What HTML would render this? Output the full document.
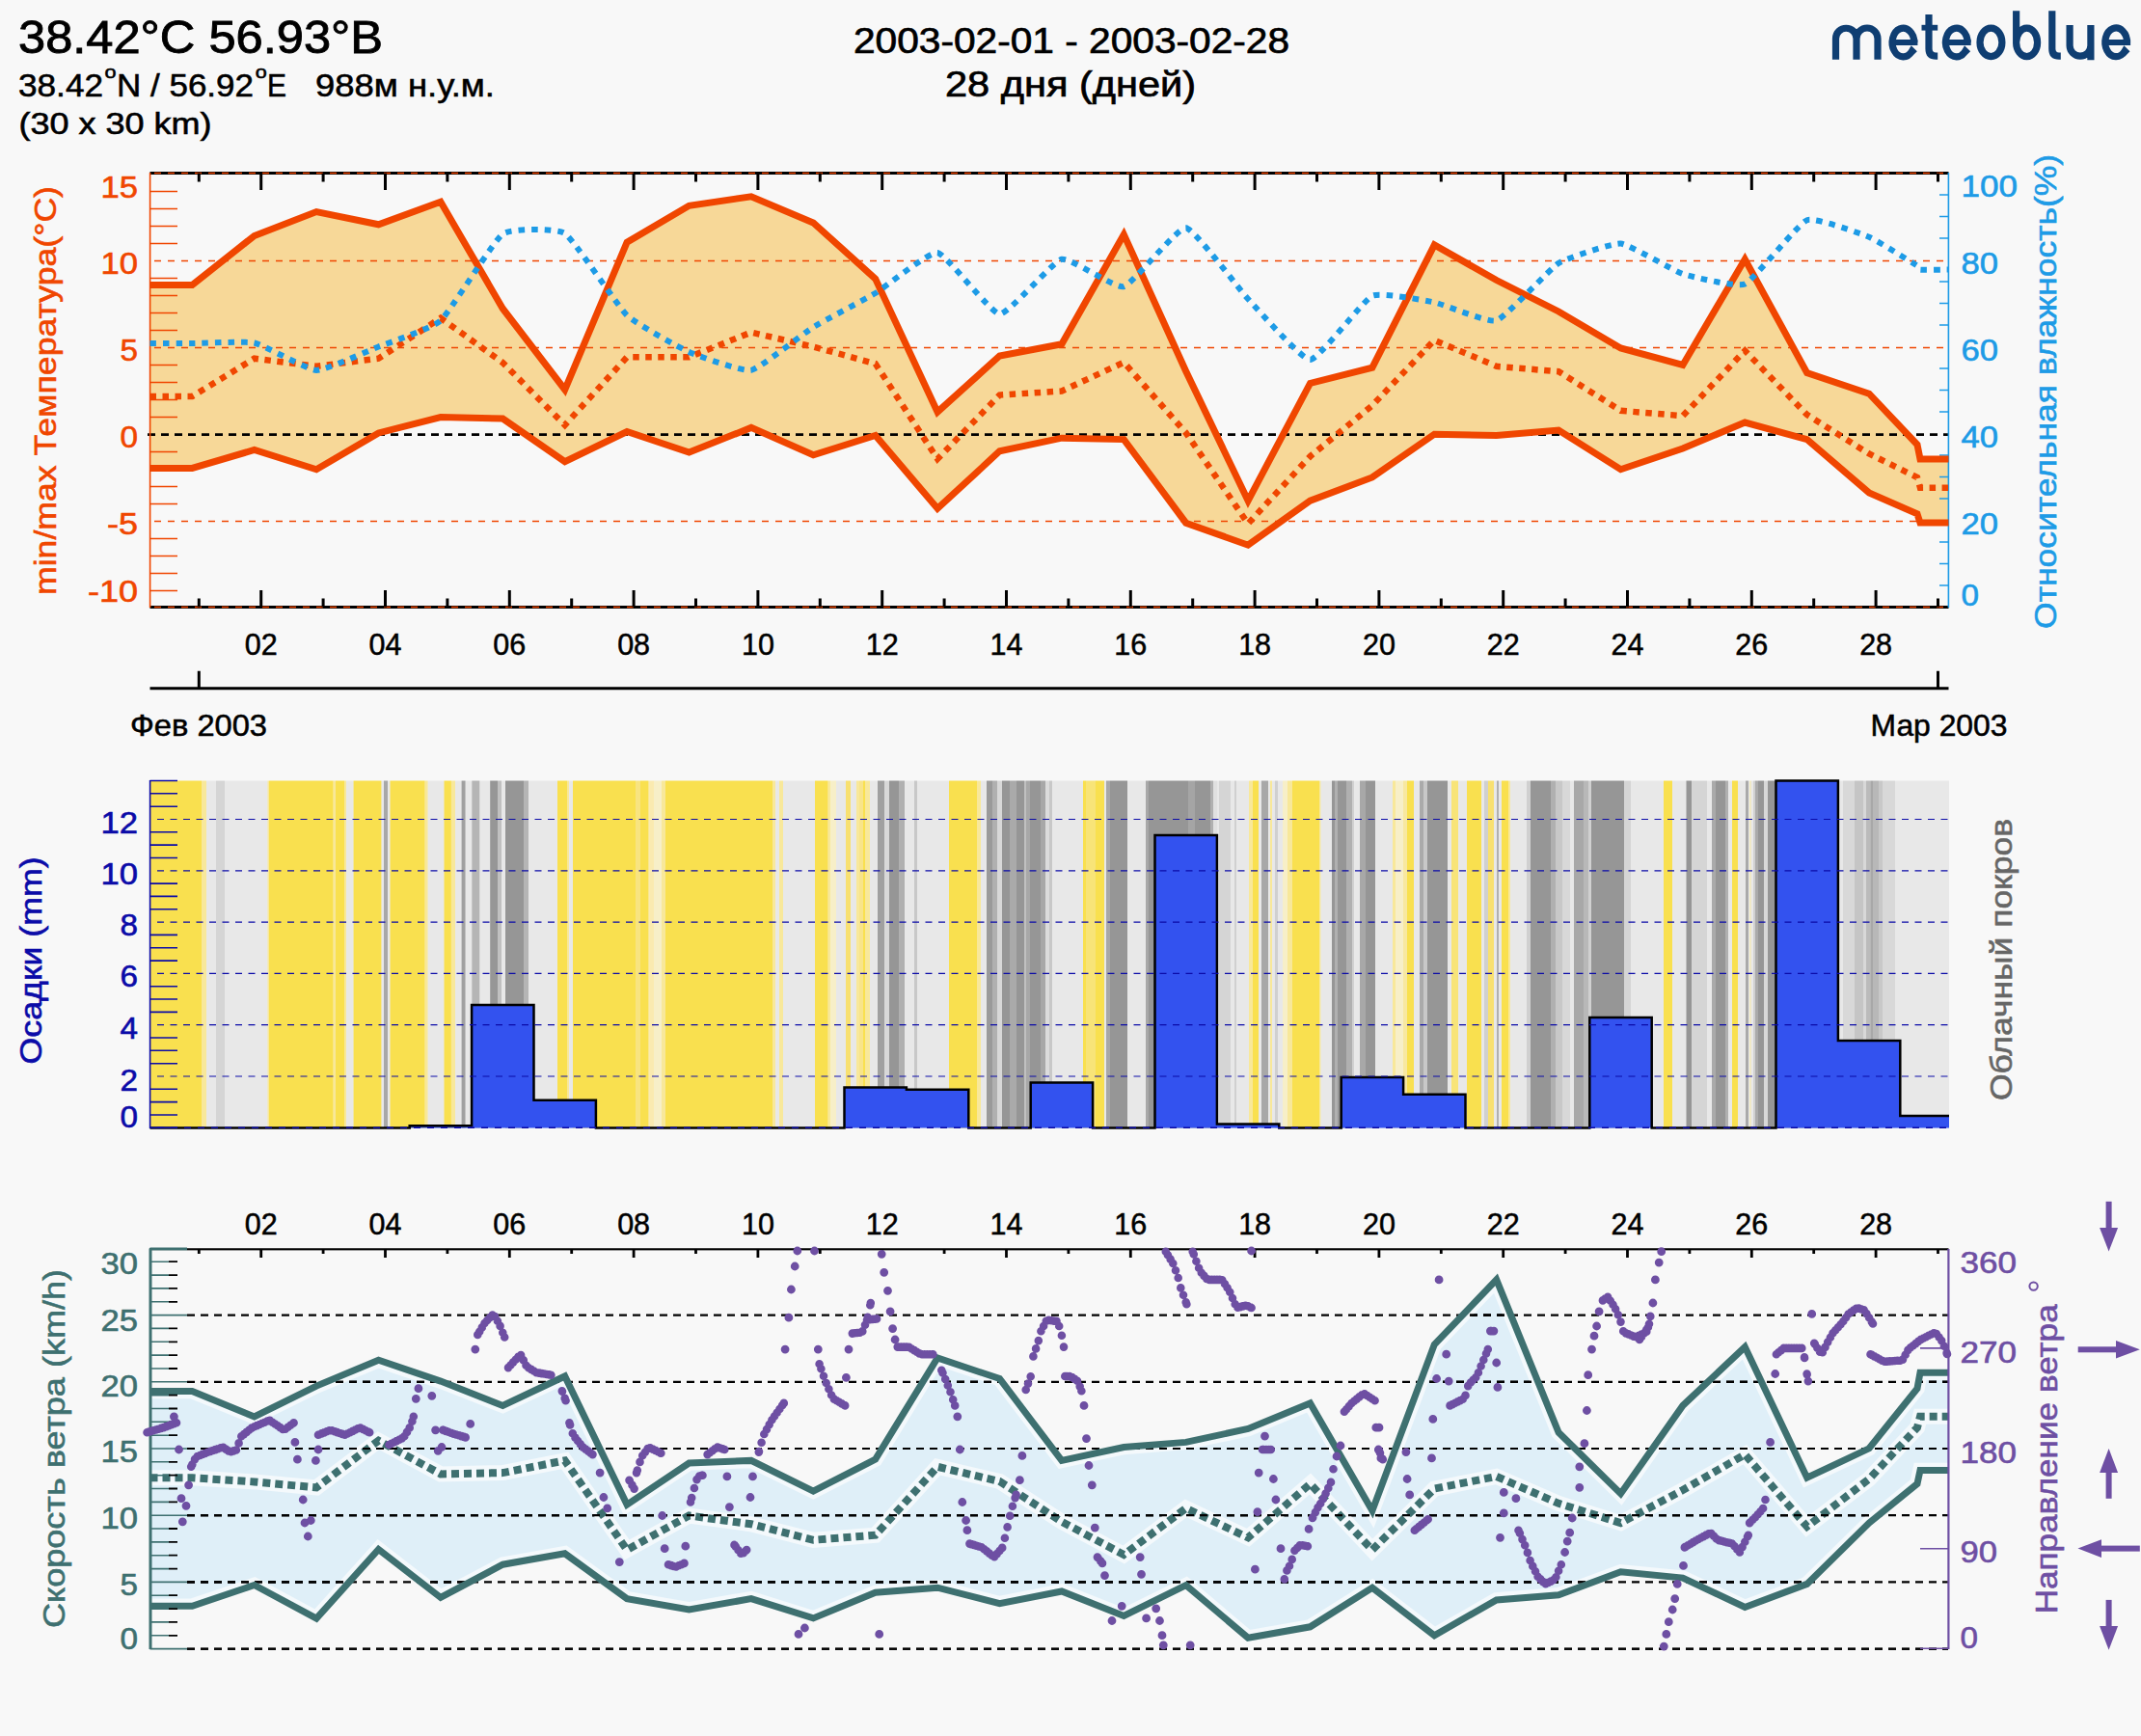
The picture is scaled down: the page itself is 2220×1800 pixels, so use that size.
<!DOCTYPE html><html><head><meta charset="utf-8"><title>meteoblue</title><style>html,body{margin:0;padding:0;background:#f8f8f8;}svg{display:block;}text{font-family:"Liberation Sans", sans-serif;}</style></head><body>
<svg width="2220" height="1800" viewBox="0 0 2220 1800">
<rect width="2220" height="1800" fill="#f8f8f8"/>
<defs><clipPath id="inband"><polygon points="155.5,1442.5 199.3,1442.5 263.7,1468.9 328.1,1437.1 392.5,1410.3 456.9,1432.1 521.3,1457.4 585.7,1427 650.1,1560.1 714.5,1517 778.9,1514.4 843.3,1546.1 907.7,1513.2 972.1,1408 1036.5,1429.5 1100.9,1514.4 1165.3,1500.5 1229.7,1495.4 1294.1,1481.5 1358.5,1454.9 1422.9,1566.4 1487.3,1394.1 1551.7,1326.9 1616.1,1485.3 1680.5,1548.7 1744.9,1457.4 1809.3,1396.6 1873.7,1532.2 1938.1,1501.8 1988,1439.7 1991,1423.2 2020.5,1423.2 2020.5,1524.6 1991,1524.6 1988,1538.5 1938.1,1579.1 1873.7,1642.4 1809.3,1666.5 1744.9,1636.1 1680.5,1629.8 1616.1,1653.8 1551.7,1658.9 1487.3,1695.7 1422.9,1646.2 1358.5,1686.8 1294.1,1698.2 1229.7,1643.7 1165.3,1675.4 1100.9,1650 1036.5,1662.7 972.1,1646.2 907.7,1651.3 843.3,1677.9 778.9,1657.6 714.5,1669 650.1,1657.6 585.7,1610.8 521.3,1622.2 456.9,1656.4 392.5,1606.5 328.1,1678 263.7,1643.5 199.3,1665.2 155.5,1665.2"/></clipPath><clipPath id="outband"><path fill-rule="evenodd" d="M0,0H2220V1800H0Z M155.5,1442.5 L199.3,1442.5 L263.7,1468.9 L328.1,1437.1 L392.5,1410.3 L456.9,1432.1 L521.3,1457.4 L585.7,1427 L650.1,1560.1 L714.5,1517 L778.9,1514.4 L843.3,1546.1 L907.7,1513.2 L972.1,1408 L1036.5,1429.5 L1100.9,1514.4 L1165.3,1500.5 L1229.7,1495.4 L1294.1,1481.5 L1358.5,1454.9 L1422.9,1566.4 L1487.3,1394.1 L1551.7,1326.9 L1616.1,1485.3 L1680.5,1548.7 L1744.9,1457.4 L1809.3,1396.6 L1873.7,1532.2 L1938.1,1501.8 L1988,1439.7 L1991,1423.2 L2020.5,1423.2 L2020.5,1524.6 L1991,1524.6 L1988,1538.5 L1938.1,1579.1 L1873.7,1642.4 L1809.3,1666.5 L1744.9,1636.1 L1680.5,1629.8 L1616.1,1653.8 L1551.7,1658.9 L1487.3,1695.7 L1422.9,1646.2 L1358.5,1686.8 L1294.1,1698.2 L1229.7,1643.7 L1165.3,1675.4 L1100.9,1650 L1036.5,1662.7 L972.1,1646.2 L907.7,1651.3 L843.3,1677.9 L778.9,1657.6 L714.5,1669 L650.1,1657.6 L585.7,1610.8 L521.3,1622.2 L456.9,1656.4 L392.5,1606.5 L328.1,1678 L263.7,1643.5 L199.3,1665.2 L155.5,1665.2 Z"/></clipPath></defs>
<text x="19" y="54.9" font-size="47.5" fill="#000" stroke="#000" stroke-width="0.9" textLength="378" lengthAdjust="spacingAndGlyphs">38.42°C 56.93°B</text>
<text x="19" y="99.7" font-size="32.5" fill="#000" stroke="#000" stroke-width="0.55"><tspan x="19" textLength="88" lengthAdjust="spacingAndGlyphs">38.42</tspan><tspan x="108.5" y="80.5" font-size="18" textLength="12" lengthAdjust="spacingAndGlyphs">o</tspan><tspan x="121" y="99.7" textLength="142" lengthAdjust="spacingAndGlyphs">N / 56.92</tspan><tspan x="264.7" y="80.5" font-size="18" textLength="12" lengthAdjust="spacingAndGlyphs">o</tspan><tspan x="277" y="99.7" textLength="20" lengthAdjust="spacingAndGlyphs">E</tspan><tspan x="327" y="99.7" textLength="186" lengthAdjust="spacingAndGlyphs">988м н.у.м.</tspan></text>
<text x="19.5" y="139.3" font-size="31.5" fill="#000" stroke="#000" stroke-width="0.6" textLength="200" lengthAdjust="spacingAndGlyphs">(30 x 30 km)</text>
<text x="885" y="54.7" font-size="36.5" fill="#000" stroke="#000" stroke-width="0.7" textLength="452" lengthAdjust="spacingAndGlyphs">2003-02-01 - 2003-02-28</text>
<text x="980" y="100.2" font-size="36.5" fill="#000" stroke="#000" stroke-width="0.7" textLength="260" lengthAdjust="spacingAndGlyphs">28 дня (дней)</text>
<path d="M1903.5,61.8V40A10.75,10.75 0 0 1 1925,40V61.8M1925,40A11,11 0 0 1 1947,40V61.8M2000,15.1V50.5Q2000,58.2 2007.5,58.2H2009.2M2064.45,29.2A11.45,14.7 0 1 1 2064.45,58.6A11.45,14.7 0 1 1 2064.45,29.2ZM2090.65,11.3V44M2101.6,29.2A11,14.7 0 1 1 2101.6,58.6A11,14.7 0 1 1 2101.6,29.2ZM2127.8,11.3V50.5Q2127.8,58.2 2135,58.2H2136.8M2146.1,26V47.3A10.9,10.9 0 0 0 2167.9,47.3V26M2167.9,44V62.2" fill="none" stroke="#0f3e72" stroke-width="7.2" stroke-linecap="butt"/>
<path d="M1992.5,28.7H2009.2" stroke="#0f3e72" stroke-width="5.8"/>
<path d="M1962.5,44H1988.4" stroke="#0f3e72" stroke-width="6"/>
<path d="M1984.8,44A11.35,14.85 0 1 0 1982.5,53 L1985.3,55.8" fill="none" stroke="#0f3e72" stroke-width="7.2"/>
<path d="M2017.8,44H2043.7" stroke="#0f3e72" stroke-width="6"/>
<path d="M2040.1,44A11.35,14.85 0 1 0 2037.8,53 L2040.6,55.8" fill="none" stroke="#0f3e72" stroke-width="7.2"/>
<path d="M2183.2,44H2209.1" stroke="#0f3e72" stroke-width="6"/>
<path d="M2205.5,44A11.35,14.85 0 1 0 2203.1,53 L2206,55.8" fill="none" stroke="#0f3e72" stroke-width="7.2"/>
<polygon points="155.5,295.4 199.3,295.4 263.7,244.5 328.1,219.6 392.5,232.8 456.9,209.3 521.3,320 585.7,404 650.1,251.2 714.5,213.3 778.9,203.8 843.3,230.9 907.7,289.1 972.1,427.2 1036.5,369 1100.9,356.8 1165.3,243.1 1229.7,385 1294.1,519.2 1358.5,397.4 1422.9,381.2 1487.3,253.9 1551.7,290.5 1616.1,323 1680.5,360.9 1744.9,378.4 1809.3,268.8 1873.7,386.6 1938.1,408.2 1988,461 1991,476 2020.5,476 2020.5,542 1991,542 1988,532.8 1938.1,511 1873.7,455.6 1809.3,438 1744.9,465 1680.5,486.7 1616.1,446.1 1551.7,451.5 1487.3,450.2 1422.9,494.9 1358.5,519.2 1294.1,565.2 1229.7,542.2 1165.3,455.6 1100.9,454.2 1036.5,467.8 972.1,527.3 907.7,451.5 843.3,471.8 778.9,443.4 714.5,469.1 650.1,447.5 585.7,478.7 521.3,434 456.9,432.6 392.5,448.9 328.1,486.8 263.7,466.5 199.3,485.4 155.5,485.4" fill="#f7d898"/>
<line x1="160" y1="270.5" x2="2020.5" y2="270.5" stroke="#f04600" stroke-width="1.4" stroke-dasharray="7 7"/>
<line x1="160" y1="360.5" x2="2020.5" y2="360.5" stroke="#f04600" stroke-width="1.4" stroke-dasharray="7 7"/>
<line x1="160" y1="540.5" x2="2020.5" y2="540.5" stroke="#f04600" stroke-width="1.4" stroke-dasharray="7 7"/>
<line x1="153" y1="450.6" x2="2020.5" y2="450.6" stroke="#000" stroke-width="2.8" stroke-dasharray="8 6"/>
<path d="M155.5,612.5H184M155.5,594.5H184M155.5,576.5H184M155.5,558.5H184M155.5,522.5H184M155.5,504.5H184M155.5,486.5H184M155.5,468.5H184M155.5,432.5H184M155.5,414.5H184M155.5,396.5H184M155.5,378.5H184M155.5,342.5H184M155.5,324.5H184M155.5,306.5H184M155.5,288.5H184M155.5,252.5H184M155.5,234.5H184M155.5,216.5H184M155.5,198.5H184" stroke="#f04600" stroke-width="1.5"/>
<path d="M2011,607H2020M2011,584.5H2020M2011,562H2020M2011,517H2020M2011,494.5H2020M2011,472H2020M2011,427H2020M2011,404.5H2020M2011,382H2020M2011,337H2020M2011,314.5H2020M2011,292H2020M2011,247H2020M2011,224.5H2020M2011,202H2020" stroke="#1d9be6" stroke-width="1.5"/>
<line x1="155.5" y1="179.5" x2="2020.5" y2="179.5" stroke="#000" stroke-width="2.8"/>
<line x1="155.5" y1="629.5" x2="2020.5" y2="629.5" stroke="#000" stroke-width="2.8"/>
<line x1="160" y1="179.5" x2="2020.5" y2="179.5" stroke="#f04600" stroke-width="1.3" stroke-dasharray="7 7"/>
<line x1="160" y1="629.5" x2="2020.5" y2="629.5" stroke="#f04600" stroke-width="1.3" stroke-dasharray="7 7"/>
<line x1="155.6" y1="179" x2="155.6" y2="630" stroke="#f04600" stroke-width="1.6"/>
<line x1="2020.4" y1="179" x2="2020.4" y2="630" stroke="#1d9be6" stroke-width="1.6"/>
<path d="M206.3,179.5v9M206.3,629.5v-9M270.7,179.5v17.5M270.7,629.5v-17.5M335.1,179.5v9M335.1,629.5v-9M399.5,179.5v17.5M399.5,629.5v-17.5M463.9,179.5v9M463.9,629.5v-9M528.3,179.5v17.5M528.3,629.5v-17.5M592.7,179.5v9M592.7,629.5v-9M657.1,179.5v17.5M657.1,629.5v-17.5M721.5,179.5v9M721.5,629.5v-9M785.9,179.5v17.5M785.9,629.5v-17.5M850.3,179.5v9M850.3,629.5v-9M914.7,179.5v17.5M914.7,629.5v-17.5M979.1,179.5v9M979.1,629.5v-9M1043.5,179.5v17.5M1043.5,629.5v-17.5M1107.9,179.5v9M1107.9,629.5v-9M1172.3,179.5v17.5M1172.3,629.5v-17.5M1236.7,179.5v9M1236.7,629.5v-9M1301.1,179.5v17.5M1301.1,629.5v-17.5M1365.5,179.5v9M1365.5,629.5v-9M1429.9,179.5v17.5M1429.9,629.5v-17.5M1494.3,179.5v9M1494.3,629.5v-9M1558.7,179.5v17.5M1558.7,629.5v-17.5M1623.1,179.5v9M1623.1,629.5v-9M1687.5,179.5v17.5M1687.5,629.5v-17.5M1751.9,179.5v9M1751.9,629.5v-9M1816.3,179.5v17.5M1816.3,629.5v-17.5M1880.7,179.5v9M1880.7,629.5v-9M1945.1,179.5v17.5M1945.1,629.5v-17.5M2009.5,179.5v9M2009.5,629.5v-9" stroke="#000" stroke-width="3"/>
<polyline points="155.5,295.4 199.3,295.4 263.7,244.5 328.1,219.6 392.5,232.8 456.9,209.3 521.3,320 585.7,404 650.1,251.2 714.5,213.3 778.9,203.8 843.3,230.9 907.7,289.1 972.1,427.2 1036.5,369 1100.9,356.8 1165.3,243.1 1229.7,385 1294.1,519.2 1358.5,397.4 1422.9,381.2 1487.3,253.9 1551.7,290.5 1616.1,323 1680.5,360.9 1744.9,378.4 1809.3,268.8 1873.7,386.6 1938.1,408.2 1988,461 1991,476 2020.5,476" fill="none" stroke="#f04600" stroke-width="7" stroke-linejoin="miter" stroke-miterlimit="3"/>
<polyline points="155.5,485.4 199.3,485.4 263.7,466.5 328.1,486.8 392.5,448.9 456.9,432.6 521.3,434 585.7,478.7 650.1,447.5 714.5,469.1 778.9,443.4 843.3,471.8 907.7,451.5 972.1,527.3 1036.5,467.8 1100.9,454.2 1165.3,455.6 1229.7,542.2 1294.1,565.2 1358.5,519.2 1422.9,494.9 1487.3,450.2 1551.7,451.5 1616.1,446.1 1680.5,486.7 1744.9,465 1809.3,438 1873.7,455.6 1938.1,511 1988,532.8 1991,542 2020.5,542" fill="none" stroke="#f04600" stroke-width="7" stroke-linejoin="miter" stroke-miterlimit="3"/>
<polyline points="155.5,411 199.3,411 263.7,371.7 328.1,379.8 392.5,371.7 456.9,329.8 521.3,376 585.7,440.7 650.1,370.3 714.5,370.3 778.9,344.6 843.3,359.5 907.7,377.1 972.1,475.9 1036.5,409.6 1100.9,405.5 1165.3,375.7 1229.7,448.8 1294.1,543 1358.5,473.2 1422.9,420.4 1487.3,352.7 1551.7,379.8 1616.1,385.2 1680.5,425.8 1744.9,431.2 1809.3,363.6 1873.7,430 1938.1,470.5 1988,495 1991,505.7 2020.5,505.7" fill="none" stroke="#f04600" stroke-width="6.5" stroke-dasharray="6.5 6.5"/>
<path d="M155.5,356 C158.4,356 192.1,356 199.3,356 C206.5,356 255.1,353.6 263.7,355.5 C272.3,357.4 319.5,383.6 328.1,383.9 C336.7,384.2 383.9,362.9 392.5,359.5 C401.1,356.1 448.3,340.3 456.9,332.5 C465.5,324.7 512.7,248.5 521.3,242.5 C529.9,236.5 577.1,236.4 585.7,242 C594.3,247.6 641.5,318.8 650.1,327 C658.7,335.2 705.9,361.2 714.5,365 C723.1,368.8 770.3,385.6 778.9,383.9 C787.5,382.2 834.7,344.5 843.3,339.2 C851.9,333.9 899.1,309.1 907.7,304 C916.3,298.9 963.5,260.6 972.1,262 C980.7,263.4 1027.9,325.2 1036.5,325.7 C1045.1,326.2 1092.3,270.7 1100.9,268.8 C1109.5,266.9 1156.7,299.4 1165.3,297.2 C1173.9,295 1221.1,235.4 1229.7,236.3 C1238.3,237.2 1285.5,300.9 1294.1,310 C1302.7,319.1 1349.9,373.2 1358.5,373 C1367.1,372.8 1414.3,310.7 1422.9,306.7 C1431.5,302.7 1478.7,311.8 1487.3,313.5 C1495.9,315.2 1543.1,335.1 1551.7,332.4 C1560.3,329.7 1607.5,278.2 1616.1,272.9 C1624.7,267.6 1671.9,251.9 1680.5,252.6 C1689.1,253.3 1736.3,281.2 1744.9,284 C1753.5,286.8 1800.7,298.2 1809.3,294.5 C1817.9,290.8 1865.1,231.4 1873.7,228.2 C1882.3,225 1930.5,242.6 1938.1,245.8 C1945.7,249 1984.5,273.3 1988,275.6 C1991.5,277.9 1988.8,279.3 1991,279.6 C1993.2,279.9 2018.5,279.6 2020.5,279.6" fill="none" stroke="#1d9be6" stroke-width="6" stroke-dasharray="6.5 7"/>
<text x="143" y="205" font-size="31" fill="#f04600" stroke="#f04600" stroke-width="0.6" text-anchor="end" textLength="38.5" lengthAdjust="spacingAndGlyphs">15</text>
<text x="143" y="283.7" font-size="31" fill="#f04600" stroke="#f04600" stroke-width="0.6" text-anchor="end" textLength="38.5" lengthAdjust="spacingAndGlyphs">10</text>
<text x="143" y="374" font-size="31" fill="#f04600" stroke="#f04600" stroke-width="0.6" text-anchor="end" textLength="18.5" lengthAdjust="spacingAndGlyphs">5</text>
<text x="143" y="463.5" font-size="31" fill="#f04600" stroke="#f04600" stroke-width="0.6" text-anchor="end" textLength="18.5" lengthAdjust="spacingAndGlyphs">0</text>
<text x="143" y="553.5" font-size="31" fill="#f04600" stroke="#f04600" stroke-width="0.6" text-anchor="end" textLength="32" lengthAdjust="spacingAndGlyphs">-5</text>
<text x="143" y="623.7" font-size="31" fill="#f04600" stroke="#f04600" stroke-width="0.6" text-anchor="end" textLength="52" lengthAdjust="spacingAndGlyphs">-10</text>
<text x="2033.5" y="204.3" font-size="31" fill="#1d9be6" stroke="#1d9be6" stroke-width="0.6" textLength="58.5" lengthAdjust="spacingAndGlyphs">100</text>
<text x="2033.5" y="284" font-size="31" fill="#1d9be6" stroke="#1d9be6" stroke-width="0.6" textLength="38.5" lengthAdjust="spacingAndGlyphs">80</text>
<text x="2033.5" y="374" font-size="31" fill="#1d9be6" stroke="#1d9be6" stroke-width="0.6" textLength="38.5" lengthAdjust="spacingAndGlyphs">60</text>
<text x="2033.5" y="463.5" font-size="31" fill="#1d9be6" stroke="#1d9be6" stroke-width="0.6" textLength="38.5" lengthAdjust="spacingAndGlyphs">40</text>
<text x="2033.5" y="553.6" font-size="31" fill="#1d9be6" stroke="#1d9be6" stroke-width="0.6" textLength="38.5" lengthAdjust="spacingAndGlyphs">20</text>
<text x="2033.5" y="628.4" font-size="31" fill="#1d9be6" stroke="#1d9be6" stroke-width="0.6" textLength="18.5" lengthAdjust="spacingAndGlyphs">0</text>
<text transform="translate(58,617) rotate(-90)" x="0" y="0" font-size="31.5" fill="#f04600" stroke="#f04600" stroke-width="0.6" textLength="424" lengthAdjust="spacingAndGlyphs">min/max Температура(°C)</text>
<text transform="translate(2132.4,651.9) rotate(-90)" x="0" y="0" font-size="31.5" fill="#1d9be6" stroke="#1d9be6" stroke-width="0.6" textLength="492" lengthAdjust="spacingAndGlyphs">Относительная влажность(%)</text>
<text x="270.7" y="679.4" font-size="30.5" fill="#000" stroke="#000" stroke-width="0.5" text-anchor="middle">02</text>
<text x="399.5" y="679.4" font-size="30.5" fill="#000" stroke="#000" stroke-width="0.5" text-anchor="middle">04</text>
<text x="528.3" y="679.4" font-size="30.5" fill="#000" stroke="#000" stroke-width="0.5" text-anchor="middle">06</text>
<text x="657.1" y="679.4" font-size="30.5" fill="#000" stroke="#000" stroke-width="0.5" text-anchor="middle">08</text>
<text x="785.9" y="679.4" font-size="30.5" fill="#000" stroke="#000" stroke-width="0.5" text-anchor="middle">10</text>
<text x="914.7" y="679.4" font-size="30.5" fill="#000" stroke="#000" stroke-width="0.5" text-anchor="middle">12</text>
<text x="1043.5" y="679.4" font-size="30.5" fill="#000" stroke="#000" stroke-width="0.5" text-anchor="middle">14</text>
<text x="1172.3" y="679.4" font-size="30.5" fill="#000" stroke="#000" stroke-width="0.5" text-anchor="middle">16</text>
<text x="1301.1" y="679.4" font-size="30.5" fill="#000" stroke="#000" stroke-width="0.5" text-anchor="middle">18</text>
<text x="1429.9" y="679.4" font-size="30.5" fill="#000" stroke="#000" stroke-width="0.5" text-anchor="middle">20</text>
<text x="1558.7" y="679.4" font-size="30.5" fill="#000" stroke="#000" stroke-width="0.5" text-anchor="middle">22</text>
<text x="1687.5" y="679.4" font-size="30.5" fill="#000" stroke="#000" stroke-width="0.5" text-anchor="middle">24</text>
<text x="1816.3" y="679.4" font-size="30.5" fill="#000" stroke="#000" stroke-width="0.5" text-anchor="middle">26</text>
<text x="1945.1" y="679.4" font-size="30.5" fill="#000" stroke="#000" stroke-width="0.5" text-anchor="middle">28</text>
<line x1="155.5" y1="713.8" x2="2020.5" y2="713.8" stroke="#000" stroke-width="3"/>
<path d="M206.3,713.8v-18M2009.5,713.8v-18" stroke="#000" stroke-width="3"/>
<text x="206" y="762.9" font-size="30.5" fill="#000" stroke="#000" stroke-width="0.5" text-anchor="middle" textLength="142" lengthAdjust="spacingAndGlyphs">Фев 2003</text>
<text x="2010.5" y="762.9" font-size="30.5" fill="#000" stroke="#000" stroke-width="0.5" text-anchor="middle" textLength="142" lengthAdjust="spacingAndGlyphs">Мар 2003</text>
<defs><filter id="hblur" x="-0.01" y="0" width="1.02" height="1"><feGaussianBlur stdDeviation="0.6 0"/></filter><clipPath id="cloudclip"><rect x="155.5" y="809.5" width="1865.5" height="360"/></clipPath></defs>
<g clip-path="url(#cloudclip)"><g filter="url(#hblur)">
<rect x="150" y="807.5" width="59.3" height="364" fill="#f9e04f"/>
<rect x="209" y="807.5" width="5.3" height="364" fill="#f8e89a"/>
<rect x="214" y="807.5" width="10.3" height="364" fill="#e8e8e8"/>
<rect x="224" y="807.5" width="9.3" height="364" fill="#d5d5d5"/>
<rect x="233" y="807.5" width="44.8" height="364" fill="#e8e8e8"/>
<rect x="277.5" y="807.5" width="1.8" height="364" fill="#f8e89a"/>
<rect x="279" y="807.5" width="66.8" height="364" fill="#f9e04f"/>
<rect x="345.5" y="807.5" width="2.8" height="364" fill="#f8e89a"/>
<rect x="348" y="807.5" width="9.3" height="364" fill="#f9e04f"/>
<rect x="357" y="807.5" width="2.3" height="364" fill="#f8e89a"/>
<rect x="359" y="807.5" width="7.9" height="364" fill="#e8e8e8"/>
<rect x="366.6" y="807.5" width="29.2" height="364" fill="#f9e04f"/>
<rect x="395.5" y="807.5" width="2.8" height="364" fill="#e8e8e8"/>
<rect x="398" y="807.5" width="4.3" height="364" fill="#a8a8a8"/>
<rect x="402" y="807.5" width="2.8" height="364" fill="#e8e8e8"/>
<rect x="404.5" y="807.5" width="36.3" height="364" fill="#f9e04f"/>
<rect x="440.5" y="807.5" width="3.4" height="364" fill="#f8e89a"/>
<rect x="443.6" y="807.5" width="17.2" height="364" fill="#e8e8e8"/>
<rect x="460.5" y="807.5" width="7.6" height="364" fill="#f9e04f"/>
<rect x="467.8" y="807.5" width="4.5" height="364" fill="#f8e89a"/>
<rect x="472" y="807.5" width="6.9" height="364" fill="#e8e8e8"/>
<rect x="478.6" y="807.5" width="4.3" height="364" fill="#a0a0a0"/>
<rect x="482.6" y="807.5" width="7" height="364" fill="#e8e8e8"/>
<rect x="489.3" y="807.5" width="8.4" height="364" fill="#b5b5b5"/>
<rect x="497.4" y="807.5" width="11.1" height="364" fill="#e8e8e8"/>
<rect x="508.2" y="807.5" width="8.1" height="364" fill="#969696"/>
<rect x="516" y="807.5" width="4.3" height="364" fill="#c0c0c0"/>
<rect x="520" y="807.5" width="4.3" height="364" fill="#e8e8e8"/>
<rect x="524" y="807.5" width="19.3" height="364" fill="#969696"/>
<rect x="543" y="807.5" width="5.3" height="364" fill="#b5b5b5"/>
<rect x="548" y="807.5" width="30.3" height="364" fill="#e8e8e8"/>
<rect x="578" y="807.5" width="10.3" height="364" fill="#f9e04f"/>
<rect x="588" y="807.5" width="2.3" height="364" fill="#f8e89a"/>
<rect x="590" y="807.5" width="4.3" height="364" fill="#e8e8e8"/>
<rect x="594" y="807.5" width="65.3" height="364" fill="#f9e04f"/>
<rect x="659" y="807.5" width="5.3" height="364" fill="#f8e480"/>
<rect x="664" y="807.5" width="8.8" height="364" fill="#f9e04f"/>
<rect x="672.5" y="807.5" width="5.8" height="364" fill="#faeab0"/>
<rect x="678" y="807.5" width="8.3" height="364" fill="#f7efc8"/>
<rect x="686" y="807.5" width="4.3" height="364" fill="#f8e89a"/>
<rect x="690" y="807.5" width="111.3" height="364" fill="#f9e04f"/>
<rect x="801" y="807.5" width="3.3" height="364" fill="#f8e89a"/>
<rect x="804" y="807.5" width="4.3" height="364" fill="#e8e8e8"/>
<rect x="808" y="807.5" width="4.3" height="364" fill="#f8e89a"/>
<rect x="812" y="807.5" width="33.3" height="364" fill="#e8e8e8"/>
<rect x="845" y="807.5" width="13.8" height="364" fill="#f9e04f"/>
<rect x="858.5" y="807.5" width="2.8" height="364" fill="#f8e89a"/>
<rect x="861" y="807.5" width="6.3" height="364" fill="#f7efc8"/>
<rect x="867" y="807.5" width="10.3" height="364" fill="#e8e8e8"/>
<rect x="877" y="807.5" width="5.3" height="364" fill="#f8e070"/>
<rect x="882" y="807.5" width="6.3" height="364" fill="#e8e8e8"/>
<rect x="888" y="807.5" width="3.3" height="364" fill="#f8e89a"/>
<rect x="891" y="807.5" width="4.3" height="364" fill="#f8e48a"/>
<rect x="895" y="807.5" width="2.3" height="364" fill="#f9e04f"/>
<rect x="897" y="807.5" width="5.3" height="364" fill="#f8e89a"/>
<rect x="902" y="807.5" width="8.3" height="364" fill="#e8e8e8"/>
<rect x="910" y="807.5" width="7.3" height="364" fill="#a0a0a0"/>
<rect x="917" y="807.5" width="5.3" height="364" fill="#d8d8d8"/>
<rect x="922" y="807.5" width="10.3" height="364" fill="#969696"/>
<rect x="932" y="807.5" width="6.3" height="364" fill="#b0b0b0"/>
<rect x="938" y="807.5" width="10.3" height="364" fill="#e8e8e8"/>
<rect x="948" y="807.5" width="3.3" height="364" fill="#c8c8c8"/>
<rect x="951" y="807.5" width="33.3" height="364" fill="#e8e8e8"/>
<rect x="984" y="807.5" width="29.3" height="364" fill="#f9e04f"/>
<rect x="1013" y="807.5" width="4.3" height="364" fill="#f8e89a"/>
<rect x="1017" y="807.5" width="6.3" height="364" fill="#e8e8e8"/>
<rect x="1023" y="807.5" width="6.3" height="364" fill="#9a9a9a"/>
<rect x="1029" y="807.5" width="5.3" height="364" fill="#b0b0b0"/>
<rect x="1034" y="807.5" width="5.3" height="364" fill="#d8d8d8"/>
<rect x="1039" y="807.5" width="8.3" height="364" fill="#969696"/>
<rect x="1047" y="807.5" width="7.3" height="364" fill="#aaaaaa"/>
<rect x="1054" y="807.5" width="8.3" height="364" fill="#969696"/>
<rect x="1062" y="807.5" width="2.3" height="364" fill="#c0c0c0"/>
<rect x="1064" y="807.5" width="4.3" height="364" fill="#a8a8a8"/>
<rect x="1068" y="807.5" width="11.3" height="364" fill="#969696"/>
<rect x="1079" y="807.5" width="5.3" height="364" fill="#a8a8a8"/>
<rect x="1084" y="807.5" width="4.3" height="364" fill="#dcdcdc"/>
<rect x="1088" y="807.5" width="3.3" height="364" fill="#c8c8c8"/>
<rect x="1091" y="807.5" width="32.3" height="364" fill="#e8e8e8"/>
<rect x="1123" y="807.5" width="3.3" height="364" fill="#f9e04f"/>
<rect x="1126" y="807.5" width="10.3" height="364" fill="#f8e478"/>
<rect x="1136" y="807.5" width="9.3" height="364" fill="#f9e04f"/>
<rect x="1145" y="807.5" width="2.3" height="364" fill="#e8e8e8"/>
<rect x="1147" y="807.5" width="4.3" height="364" fill="#a8a8a8"/>
<rect x="1151" y="807.5" width="18.3" height="364" fill="#969696"/>
<rect x="1169" y="807.5" width="19.3" height="364" fill="#e8e8e8"/>
<rect x="1188" y="807.5" width="3.3" height="364" fill="#a8a8a8"/>
<rect x="1191" y="807.5" width="41.3" height="364" fill="#969696"/>
<rect x="1232" y="807.5" width="7.3" height="364" fill="#a5a5a5"/>
<rect x="1239" y="807.5" width="16.3" height="364" fill="#969696"/>
<rect x="1255" y="807.5" width="3.3" height="364" fill="#b0b0b0"/>
<rect x="1258" y="807.5" width="4.3" height="364" fill="#e0e0e0"/>
<rect x="1262" y="807.5" width="2.3" height="364" fill="#e8e8e8"/>
<rect x="1264" y="807.5" width="12.3" height="364" fill="#d5d5d5"/>
<rect x="1276" y="807.5" width="4.3" height="364" fill="#e8e8e8"/>
<rect x="1280" y="807.5" width="2.3" height="364" fill="#d0d0d0"/>
<rect x="1282" y="807.5" width="13.3" height="364" fill="#e8e8e8"/>
<rect x="1295" y="807.5" width="4.3" height="364" fill="#f8e89a"/>
<rect x="1299" y="807.5" width="6.3" height="364" fill="#f9e04f"/>
<rect x="1305" y="807.5" width="3.3" height="364" fill="#e8e8e8"/>
<rect x="1308" y="807.5" width="7.3" height="364" fill="#a8a8a8"/>
<rect x="1315" y="807.5" width="2.3" height="364" fill="#e8e8e8"/>
<rect x="1317" y="807.5" width="2.3" height="364" fill="#f8e89a"/>
<rect x="1319" y="807.5" width="3.3" height="364" fill="#e8e8e8"/>
<rect x="1322" y="807.5" width="3.3" height="364" fill="#d0d0d0"/>
<rect x="1325" y="807.5" width="5.3" height="364" fill="#e8e8e8"/>
<rect x="1330" y="807.5" width="5.3" height="364" fill="#f7efc8"/>
<rect x="1335" y="807.5" width="5.3" height="364" fill="#f8e89a"/>
<rect x="1340" y="807.5" width="28.3" height="364" fill="#f9e04f"/>
<rect x="1368" y="807.5" width="1.8" height="364" fill="#f8e89a"/>
<rect x="1369.5" y="807.5" width="11.8" height="364" fill="#e8e8e8"/>
<rect x="1381" y="807.5" width="3.3" height="364" fill="#969696"/>
<rect x="1384" y="807.5" width="3.3" height="364" fill="#b0b0b0"/>
<rect x="1387" y="807.5" width="9.3" height="364" fill="#969696"/>
<rect x="1396" y="807.5" width="6.3" height="364" fill="#b0b0b0"/>
<rect x="1402" y="807.5" width="2.3" height="364" fill="#d0d0d0"/>
<rect x="1404" y="807.5" width="6.3" height="364" fill="#e8e8e8"/>
<rect x="1410" y="807.5" width="6.3" height="364" fill="#a8a8a8"/>
<rect x="1416" y="807.5" width="10.3" height="364" fill="#969696"/>
<rect x="1426" y="807.5" width="18.3" height="364" fill="#e8e8e8"/>
<rect x="1444" y="807.5" width="3.3" height="364" fill="#f8e89a"/>
<rect x="1447" y="807.5" width="8.3" height="364" fill="#f7efc8"/>
<rect x="1455" y="807.5" width="4.3" height="364" fill="#f8e8a0"/>
<rect x="1459" y="807.5" width="7.3" height="364" fill="#f9e04f"/>
<rect x="1466" y="807.5" width="6.3" height="364" fill="#e8e8e8"/>
<rect x="1472" y="807.5" width="4.3" height="364" fill="#aaaaaa"/>
<rect x="1476" y="807.5" width="4.3" height="364" fill="#c8c8c8"/>
<rect x="1480" y="807.5" width="21.3" height="364" fill="#969696"/>
<rect x="1501" y="807.5" width="4.3" height="364" fill="#e8e8e8"/>
<rect x="1505" y="807.5" width="7.3" height="364" fill="#f8e478"/>
<rect x="1512" y="807.5" width="9.3" height="364" fill="#e8e8e8"/>
<rect x="1521" y="807.5" width="15.3" height="364" fill="#f9e04f"/>
<rect x="1536" y="807.5" width="3.3" height="364" fill="#e8e8e8"/>
<rect x="1539" y="807.5" width="4.3" height="364" fill="#d0d0d0"/>
<rect x="1543" y="807.5" width="6.3" height="364" fill="#f8e070"/>
<rect x="1549" y="807.5" width="3.3" height="364" fill="#e8e8e8"/>
<rect x="1552" y="807.5" width="2.3" height="364" fill="#b0b0b0"/>
<rect x="1554" y="807.5" width="3.3" height="364" fill="#e8e8e8"/>
<rect x="1557" y="807.5" width="7.3" height="364" fill="#f9e04f"/>
<rect x="1564" y="807.5" width="2.3" height="364" fill="#f8e89a"/>
<rect x="1566" y="807.5" width="17.3" height="364" fill="#e8e8e8"/>
<rect x="1583" y="807.5" width="4.3" height="364" fill="#d0d0d0"/>
<rect x="1587" y="807.5" width="21.3" height="364" fill="#969696"/>
<rect x="1608" y="807.5" width="5.3" height="364" fill="#b0b0b0"/>
<rect x="1613" y="807.5" width="7.3" height="364" fill="#c8c8c8"/>
<rect x="1620" y="807.5" width="8.3" height="364" fill="#d8d8d8"/>
<rect x="1628" y="807.5" width="4.3" height="364" fill="#e8e8e8"/>
<rect x="1632" y="807.5" width="10.3" height="364" fill="#a8a8a8"/>
<rect x="1642" y="807.5" width="5.3" height="364" fill="#b8b8b8"/>
<rect x="1647" y="807.5" width="3.3" height="364" fill="#d0d0d0"/>
<rect x="1650" y="807.5" width="34.3" height="364" fill="#969696"/>
<rect x="1684" y="807.5" width="7.3" height="364" fill="#d5d5d5"/>
<rect x="1691" y="807.5" width="34.3" height="364" fill="#e8e8e8"/>
<rect x="1725" y="807.5" width="9.3" height="364" fill="#f9e04f"/>
<rect x="1734" y="807.5" width="14.8" height="364" fill="#e8e8e8"/>
<rect x="1748.5" y="807.5" width="5.8" height="364" fill="#969696"/>
<rect x="1754" y="807.5" width="16.3" height="364" fill="#d5d5d5"/>
<rect x="1770" y="807.5" width="5.3" height="364" fill="#e8e8e8"/>
<rect x="1775" y="807.5" width="4.3" height="364" fill="#aaaaaa"/>
<rect x="1779" y="807.5" width="10.3" height="364" fill="#969696"/>
<rect x="1789" y="807.5" width="3.3" height="364" fill="#b0b0b0"/>
<rect x="1792" y="807.5" width="4.3" height="364" fill="#e8e8e8"/>
<rect x="1796" y="807.5" width="6.3" height="364" fill="#f9e04f"/>
<rect x="1802" y="807.5" width="8.3" height="364" fill="#e8e8e8"/>
<rect x="1810" y="807.5" width="3.3" height="364" fill="#aaaaaa"/>
<rect x="1813" y="807.5" width="1.8" height="364" fill="#e8e8e8"/>
<rect x="1814.5" y="807.5" width="1.3" height="364" fill="#f8e89a"/>
<rect x="1815.5" y="807.5" width="2.8" height="364" fill="#e8e8e8"/>
<rect x="1818" y="807.5" width="2.3" height="364" fill="#d0d0d0"/>
<rect x="1820" y="807.5" width="3.3" height="364" fill="#aaaaaa"/>
<rect x="1823" y="807.5" width="6.3" height="364" fill="#969696"/>
<rect x="1829" y="807.5" width="4.3" height="364" fill="#d8d8d8"/>
<rect x="1833" y="807.5" width="73.3" height="364" fill="#969696"/>
<rect x="1906" y="807.5" width="5.3" height="364" fill="#e8e8e8"/>
<rect x="1911" y="807.5" width="12.3" height="364" fill="#d8d8d8"/>
<rect x="1923" y="807.5" width="9.3" height="364" fill="#c5c5c5"/>
<rect x="1932" y="807.5" width="3.3" height="364" fill="#d8d8d8"/>
<rect x="1935" y="807.5" width="4.8" height="364" fill="#bbbbbb"/>
<rect x="1939.5" y="807.5" width="2.8" height="364" fill="#a8a8a8"/>
<rect x="1942" y="807.5" width="6.3" height="364" fill="#b8b8b8"/>
<rect x="1948" y="807.5" width="4.3" height="364" fill="#c8c8c8"/>
<rect x="1952" y="807.5" width="13.3" height="364" fill="#d8d8d8"/>
<rect x="1965" y="807.5" width="61.3" height="364" fill="#e8e8e8"/>
</g></g>
<polygon points="155.5,1169.5 167.1,1169.5 167.1,1169.5 231.5,1169.5 231.5,1169.5 295.9,1169.5 295.9,1169.5 360.3,1169.5 360.3,1169.5 424.7,1169.5 424.7,1167.2 489.1,1167.2 489.1,1042.1 553.5,1042.1 553.5,1140.8 617.9,1140.8 617.9,1169.5 682.3,1169.5 682.3,1169.5 746.7,1169.5 746.7,1169.5 811.1,1169.5 811.1,1169.5 875.5,1169.5 875.5,1127.4 939.9,1127.4 939.9,1129.8 1004.3,1129.8 1004.3,1169.5 1068.7,1169.5 1068.7,1122.4 1133.1,1122.4 1133.1,1169.5 1197.5,1169.5 1197.5,866.1 1261.9,866.1 1261.9,1165.5 1326.3,1165.5 1326.3,1169.5 1390.7,1169.5 1390.7,1116.9 1455.1,1116.9 1455.1,1134.8 1519.5,1134.8 1519.5,1169.5 1583.9,1169.5 1583.9,1169.5 1648.3,1169.5 1648.3,1054.9 1712.7,1054.9 1712.7,1169.5 1777.1,1169.5 1777.1,1169.5 1841.5,1169.5 1841.5,809.5 1905.9,809.5 1905.9,1079.1 1970.3,1079.1 1970.3,1157 2021,1157 2021,1169.5 155.5,1169.5" fill="#3352ef"/>
<polyline points="155.5,1169.5 167.1,1169.5 167.1,1169.5 231.5,1169.5 231.5,1169.5 295.9,1169.5 295.9,1169.5 360.3,1169.5 360.3,1169.5 424.7,1169.5 424.7,1167.2 489.1,1167.2 489.1,1042.1 553.5,1042.1 553.5,1140.8 617.9,1140.8 617.9,1169.5 682.3,1169.5 682.3,1169.5 746.7,1169.5 746.7,1169.5 811.1,1169.5 811.1,1169.5 875.5,1169.5 875.5,1127.4 939.9,1127.4 939.9,1129.8 1004.3,1129.8 1004.3,1169.5 1068.7,1169.5 1068.7,1122.4 1133.1,1122.4 1133.1,1169.5 1197.5,1169.5 1197.5,866.1 1261.9,866.1 1261.9,1165.5 1326.3,1165.5 1326.3,1169.5 1390.7,1169.5 1390.7,1116.9 1455.1,1116.9 1455.1,1134.8 1519.5,1134.8 1519.5,1169.5 1583.9,1169.5 1583.9,1169.5 1648.3,1169.5 1648.3,1054.9 1712.7,1054.9 1712.7,1169.5 1777.1,1169.5 1777.1,1169.5 1841.5,1169.5 1841.5,809.5 1905.9,809.5 1905.9,1079.1 1970.3,1079.1 1970.3,1157 2021,1157" fill="none" stroke="#000" stroke-width="2.5" stroke-linejoin="miter"/>
<line x1="163" y1="1116" x2="2021" y2="1116" stroke="#0b0ba8" stroke-width="1.2" stroke-dasharray="7 6.5"/>
<line x1="163" y1="1062.7" x2="2021" y2="1062.7" stroke="#0b0ba8" stroke-width="1.2" stroke-dasharray="7 6.5"/>
<line x1="163" y1="1009.4" x2="2021" y2="1009.4" stroke="#0b0ba8" stroke-width="1.2" stroke-dasharray="7 6.5"/>
<line x1="163" y1="956.1" x2="2021" y2="956.1" stroke="#0b0ba8" stroke-width="1.2" stroke-dasharray="7 6.5"/>
<line x1="163" y1="902.8" x2="2021" y2="902.8" stroke="#0b0ba8" stroke-width="1.2" stroke-dasharray="7 6.5"/>
<line x1="163" y1="849.5" x2="2021" y2="849.5" stroke="#0b0ba8" stroke-width="1.2" stroke-dasharray="7 6.5"/>
<line x1="163" y1="1169.3" x2="2021" y2="1169.3" stroke="#0b0ba8" stroke-width="1.4" stroke-dasharray="7 7"/>
<path d="M155.5,1169.3H184M155.5,1156H184M155.5,1142.6H184M155.5,1129.3H184M155.5,1102.7H184M155.5,1089.3H184M155.5,1076H184M155.5,1049.4H184M155.5,1036H184M155.5,1022.7H184M155.5,996.1H184M155.5,982.8H184M155.5,969.4H184M155.5,942.8H184M155.5,929.4H184M155.5,916.1H184M155.5,889.5H184M155.5,876.1H184M155.5,862.8H184M155.5,836.2H184M155.5,822.8H184M155.5,809.5H184M155.5,809.5H184" stroke="#0b0ba8" stroke-width="1.6"/>
<line x1="155.6" y1="809" x2="155.6" y2="1170" stroke="#0b0ba8" stroke-width="1.6"/>
<text x="143" y="864" font-size="31" fill="#0b0ba8" stroke="#0b0ba8" stroke-width="0.6" text-anchor="end" textLength="38.5" lengthAdjust="spacingAndGlyphs">12</text>
<text x="143" y="916.5" font-size="31" fill="#0b0ba8" stroke="#0b0ba8" stroke-width="0.6" text-anchor="end" textLength="38.5" lengthAdjust="spacingAndGlyphs">10</text>
<text x="143" y="970" font-size="31" fill="#0b0ba8" stroke="#0b0ba8" stroke-width="0.6" text-anchor="end" textLength="18.5" lengthAdjust="spacingAndGlyphs">8</text>
<text x="143" y="1023.3" font-size="31" fill="#0b0ba8" stroke="#0b0ba8" stroke-width="0.6" text-anchor="end" textLength="18.5" lengthAdjust="spacingAndGlyphs">6</text>
<text x="143" y="1077" font-size="31" fill="#0b0ba8" stroke="#0b0ba8" stroke-width="0.6" text-anchor="end" textLength="18.5" lengthAdjust="spacingAndGlyphs">4</text>
<text x="143" y="1130.5" font-size="31" fill="#0b0ba8" stroke="#0b0ba8" stroke-width="0.6" text-anchor="end" textLength="18.5" lengthAdjust="spacingAndGlyphs">2</text>
<text x="143" y="1169" font-size="31" fill="#0b0ba8" stroke="#0b0ba8" stroke-width="0.6" text-anchor="end" textLength="18.5" lengthAdjust="spacingAndGlyphs">0</text>
<text transform="translate(42.5,1103.4) rotate(-90)" x="0" y="0" font-size="31.5" fill="#0b0ba8" stroke="#0b0ba8" stroke-width="0.6" textLength="215" lengthAdjust="spacingAndGlyphs">Осадки (mm)</text>
<text transform="translate(2085.5,1141) rotate(-90)" x="0" y="0" font-size="31.5" fill="#666666" stroke="#666666" stroke-width="0.6" textLength="292" lengthAdjust="spacingAndGlyphs">Облачный покров</text>
<polygon points="155.5,1442.5 199.3,1442.5 263.7,1468.9 328.1,1437.1 392.5,1410.3 456.9,1432.1 521.3,1457.4 585.7,1427 650.1,1560.1 714.5,1517 778.9,1514.4 843.3,1546.1 907.7,1513.2 972.1,1408 1036.5,1429.5 1100.9,1514.4 1165.3,1500.5 1229.7,1495.4 1294.1,1481.5 1358.5,1454.9 1422.9,1566.4 1487.3,1394.1 1551.7,1326.9 1616.1,1485.3 1680.5,1548.7 1744.9,1457.4 1809.3,1396.6 1873.7,1532.2 1938.1,1501.8 1988,1439.7 1991,1423.2 2020.5,1423.2 2020.5,1524.6 1991,1524.6 1988,1538.5 1938.1,1579.1 1873.7,1642.4 1809.3,1666.5 1744.9,1636.1 1680.5,1629.8 1616.1,1653.8 1551.7,1658.9 1487.3,1695.7 1422.9,1646.2 1358.5,1686.8 1294.1,1698.2 1229.7,1643.7 1165.3,1675.4 1100.9,1650 1036.5,1662.7 972.1,1646.2 907.7,1651.3 843.3,1677.9 778.9,1657.6 714.5,1669 650.1,1657.6 585.7,1610.8 521.3,1622.2 456.9,1656.4 392.5,1606.5 328.1,1678 263.7,1643.5 199.3,1665.2 155.5,1665.2" fill="#dfeff8"/>
<line x1="194" y1="1640.4" x2="2020" y2="1640.4" stroke="#000" stroke-width="2.2" stroke-dasharray="8 6"/>
<line x1="194" y1="1571.2" x2="2020" y2="1571.2" stroke="#000" stroke-width="2.2" stroke-dasharray="8 6"/>
<line x1="194" y1="1502" x2="2020" y2="1502" stroke="#000" stroke-width="2.2" stroke-dasharray="8 6"/>
<line x1="194" y1="1432.8" x2="2020" y2="1432.8" stroke="#000" stroke-width="2.2" stroke-dasharray="8 6"/>
<line x1="194" y1="1363.6" x2="2020" y2="1363.6" stroke="#000" stroke-width="2.2" stroke-dasharray="8 6"/>
<line x1="194" y1="1709.6" x2="2020" y2="1709.6" stroke="#000" stroke-width="2.2" stroke-dasharray="8 6"/>
<line x1="155" y1="1295.6" x2="2020.5" y2="1295.6" stroke="#000" stroke-width="2.5"/>
<line x1="155" y1="1295.6" x2="194" y2="1295.6" stroke="#3e7070" stroke-width="2.5"/>
<polyline points="155.5,1442.5 199.3,1442.5 263.7,1468.9 328.1,1437.1 392.5,1410.3 456.9,1432.1 521.3,1457.4 585.7,1427 650.1,1560.1 714.5,1517 778.9,1514.4 843.3,1546.1 907.7,1513.2 972.1,1408 1036.5,1429.5 1100.9,1514.4 1165.3,1500.5 1229.7,1495.4 1294.1,1481.5 1358.5,1454.9 1422.9,1566.4 1487.3,1394.1 1551.7,1326.9 1616.1,1485.3 1680.5,1548.7 1744.9,1457.4 1809.3,1396.6 1873.7,1532.2 1938.1,1501.8 1988,1439.7 1991,1423.2 2020.5,1423.2" fill="none" stroke="#f4f9fc" stroke-width="15.5" stroke-linejoin="miter" stroke-miterlimit="3"/>
<polyline points="155.5,1665.2 199.3,1665.2 263.7,1643.5 328.1,1678 392.5,1606.5 456.9,1656.4 521.3,1622.2 585.7,1610.8 650.1,1657.6 714.5,1669 778.9,1657.6 843.3,1677.9 907.7,1651.3 972.1,1646.2 1036.5,1662.7 1100.9,1650 1165.3,1675.4 1229.7,1643.7 1294.1,1698.2 1358.5,1686.8 1422.9,1646.2 1487.3,1695.7 1551.7,1658.9 1616.1,1653.8 1680.5,1629.8 1744.9,1636.1 1809.3,1666.5 1873.7,1642.4 1938.1,1579.1 1988,1538.5 1991,1524.6 2020.5,1524.6" fill="none" stroke="#f4f9fc" stroke-width="15.5" stroke-linejoin="miter" stroke-miterlimit="3"/>
<polygon points="155.5,1296.5 155.5,1442.5 199.3,1442.5 263.7,1468.9 328.1,1437.1 392.5,1410.3 456.9,1432.1 521.3,1457.4 585.7,1427 650.1,1560.1 714.5,1517 778.9,1514.4 843.3,1546.1 907.7,1513.2 972.1,1408 1036.5,1429.5 1100.9,1514.4 1165.3,1500.5 1229.7,1495.4 1294.1,1481.5 1358.5,1454.9 1422.9,1566.4 1487.3,1394.1 1551.7,1326.9 1616.1,1485.3 1680.5,1548.7 1744.9,1457.4 1809.3,1396.6 1873.7,1532.2 1938.1,1501.8 1988,1439.7 1991,1423.2 2020.5,1423.2 2020.5,1296.5" fill="#f8f8f8"/>
<polygon points="155.5,1708.6 155.5,1665.2 199.3,1665.2 263.7,1643.5 328.1,1678 392.5,1606.5 456.9,1656.4 521.3,1622.2 585.7,1610.8 650.1,1657.6 714.5,1669 778.9,1657.6 843.3,1677.9 907.7,1651.3 972.1,1646.2 1036.5,1662.7 1100.9,1650 1165.3,1675.4 1229.7,1643.7 1294.1,1698.2 1358.5,1686.8 1422.9,1646.2 1487.3,1695.7 1551.7,1658.9 1616.1,1653.8 1680.5,1629.8 1744.9,1636.1 1809.3,1666.5 1873.7,1642.4 1938.1,1579.1 1988,1538.5 1991,1524.6 2020.5,1524.6 2020.5,1708.6" fill="#f8f8f8"/>
<line x1="194" y1="1640.4" x2="2020" y2="1640.4" stroke="#000" stroke-width="2.2" stroke-dasharray="8 6" clip-path="url(#outband)"/>
<line x1="194" y1="1571.2" x2="2020" y2="1571.2" stroke="#000" stroke-width="2.2" stroke-dasharray="8 6" clip-path="url(#outband)"/>
<line x1="194" y1="1502" x2="2020" y2="1502" stroke="#000" stroke-width="2.2" stroke-dasharray="8 6" clip-path="url(#outband)"/>
<line x1="194" y1="1432.8" x2="2020" y2="1432.8" stroke="#000" stroke-width="2.2" stroke-dasharray="8 6" clip-path="url(#outband)"/>
<line x1="194" y1="1363.6" x2="2020" y2="1363.6" stroke="#000" stroke-width="2.2" stroke-dasharray="8 6" clip-path="url(#outband)"/>
<line x1="194" y1="1709.6" x2="2020" y2="1709.6" stroke="#000" stroke-width="2.2" stroke-dasharray="8 6"/>
<path d="M206.3,1295.6v4.5M270.7,1295.6v8.5M335.1,1295.6v4.5M399.5,1295.6v8.5M463.9,1295.6v4.5M528.3,1295.6v8.5M592.7,1295.6v4.5M657.1,1295.6v8.5M721.5,1295.6v4.5M785.9,1295.6v8.5M850.3,1295.6v4.5M914.7,1295.6v8.5M979.1,1295.6v4.5M1043.5,1295.6v8.5M1107.9,1295.6v4.5M1172.3,1295.6v8.5M1236.7,1295.6v4.5M1301.1,1295.6v8.5M1365.5,1295.6v4.5M1429.9,1295.6v8.5M1494.3,1295.6v4.5M1558.7,1295.6v8.5M1623.1,1295.6v4.5M1687.5,1295.6v8.5M1751.9,1295.6v4.5M1816.3,1295.6v8.5M1880.7,1295.6v4.5M1945.1,1295.6v8.5M2009.5,1295.6v4.5" stroke="#000" stroke-width="2.8"/>
<polyline points="155.5,1532.3 199.3,1532.3 263.7,1536.4 328.1,1542.4 392.5,1493.7 456.9,1528.4 521.3,1527.1 585.7,1514.4 650.1,1607 714.5,1571.5 778.9,1580.3 843.3,1596.8 907.7,1591.7 972.1,1520.8 1036.5,1536 1100.9,1577.8 1165.3,1612 1229.7,1563.9 1294.1,1594.3 1358.5,1538.5 1422.9,1607 1487.3,1543.6 1551.7,1530.9 1616.1,1558.8 1680.5,1579.1 1744.9,1545 1809.3,1508.1 1873.7,1582.9 1938.1,1533.5 1988,1480.2 1991,1468.8 2020.5,1468.8" fill="none" stroke="#f4f9fc" stroke-width="16"/>
<polyline points="155.5,1532.3 199.3,1532.3 263.7,1536.4 328.1,1542.4 392.5,1493.7 456.9,1528.4 521.3,1527.1 585.7,1514.4 650.1,1607 714.5,1571.5 778.9,1580.3 843.3,1596.8 907.7,1591.7 972.1,1520.8 1036.5,1536 1100.9,1577.8 1165.3,1612 1229.7,1563.9 1294.1,1594.3 1358.5,1538.5 1422.9,1607 1487.3,1543.6 1551.7,1530.9 1616.1,1558.8 1680.5,1579.1 1744.9,1545 1809.3,1508.1 1873.7,1582.9 1938.1,1533.5 1988,1480.2 1991,1468.8 2020.5,1468.8" fill="none" stroke="#3e7070" stroke-width="8" stroke-dasharray="8 5"/>
<line x1="194" y1="1640.4" x2="2020" y2="1640.4" stroke="#000" stroke-width="2.2" stroke-dasharray="8 6" clip-path="url(#inband)"/>
<line x1="194" y1="1571.2" x2="2020" y2="1571.2" stroke="#000" stroke-width="2.2" stroke-dasharray="8 6" clip-path="url(#inband)"/>
<line x1="194" y1="1502" x2="2020" y2="1502" stroke="#000" stroke-width="2.2" stroke-dasharray="8 6" clip-path="url(#inband)"/>
<line x1="194" y1="1432.8" x2="2020" y2="1432.8" stroke="#000" stroke-width="2.2" stroke-dasharray="8 6" clip-path="url(#inband)"/>
<line x1="194" y1="1363.6" x2="2020" y2="1363.6" stroke="#000" stroke-width="2.2" stroke-dasharray="8 6" clip-path="url(#inband)"/>
<polyline points="155.5,1442.5 199.3,1442.5 263.7,1468.9 328.1,1437.1 392.5,1410.3 456.9,1432.1 521.3,1457.4 585.7,1427 650.1,1560.1 714.5,1517 778.9,1514.4 843.3,1546.1 907.7,1513.2 972.1,1408 1036.5,1429.5 1100.9,1514.4 1165.3,1500.5 1229.7,1495.4 1294.1,1481.5 1358.5,1454.9 1422.9,1566.4 1487.3,1394.1 1551.7,1326.9 1616.1,1485.3 1680.5,1548.7 1744.9,1457.4 1809.3,1396.6 1873.7,1532.2 1938.1,1501.8 1988,1439.7 1991,1423.2 2020.5,1423.2" fill="none" stroke="#3e7070" stroke-width="7" stroke-linejoin="miter" stroke-miterlimit="3"/>
<polyline points="155.5,1665.2 199.3,1665.2 263.7,1643.5 328.1,1678 392.5,1606.5 456.9,1656.4 521.3,1622.2 585.7,1610.8 650.1,1657.6 714.5,1669 778.9,1657.6 843.3,1677.9 907.7,1651.3 972.1,1646.2 1036.5,1662.7 1100.9,1650 1165.3,1675.4 1229.7,1643.7 1294.1,1698.2 1358.5,1686.8 1422.9,1646.2 1487.3,1695.7 1551.7,1658.9 1616.1,1653.8 1680.5,1629.8 1744.9,1636.1 1809.3,1666.5 1873.7,1642.4 1938.1,1579.1 1988,1538.5 1991,1524.6 2020.5,1524.6" fill="none" stroke="#3e7070" stroke-width="7" stroke-linejoin="miter" stroke-miterlimit="3"/>
<path d="M155.5,1709.6H194M155.5,1695.8H175M155.5,1681.9H175M155.5,1668.1H175M155.5,1654.2H175M155.5,1640.4H194M155.5,1626.6H175M155.5,1612.7H175M155.5,1598.9H175M155.5,1585H175M155.5,1571.2H194M155.5,1557.4H175M155.5,1543.5H175M155.5,1529.7H175M155.5,1515.8H175M155.5,1502H194M155.5,1488.2H175M155.5,1474.3H175M155.5,1460.5H175M155.5,1446.6H175M155.5,1432.8H194M155.5,1419H175M155.5,1405.1H175M155.5,1391.3H175M155.5,1377.4H175M155.5,1363.6H194M155.5,1349.8H175M155.5,1335.9H175M155.5,1322.1H175M155.5,1308.2H175M155.5,1294.4H194" stroke="#3e7070" stroke-width="1.6"/>
<path d="M175,1695.8H184M175,1681.9H184M175,1668.1H184M175,1654.2H184M175,1626.6H184M175,1612.7H184M175,1598.9H184M175,1585H184M175,1557.4H184M175,1543.5H184M175,1529.7H184M175,1515.8H184M175,1488.2H184M175,1474.3H184M175,1460.5H184M175,1446.6H184M175,1419H184M175,1405.1H184M175,1391.3H184M175,1377.4H184M175,1349.8H184M175,1335.9H184M175,1322.1H184M175,1308.2H184" stroke="#000" stroke-width="1.8"/>
<line x1="156" y1="1294.5" x2="156" y2="1710" stroke="#3e7070" stroke-width="3"/>
<line x1="2020.4" y1="1295" x2="2020.4" y2="1710" stroke="#6e4fa3" stroke-width="2.2"/>
<path d="M1991,1397.9H2020.5M1991,1605.7H2020.5M1991,1709.3H2020.5" stroke="#6e4fa3" stroke-width="1.6"/>
<path d="M153.7,1484.9h0M156.4,1484.1h0M159.1,1483.3h0M161.7,1482.5h0M164.4,1481.7h0M167.1,1480.9h0M169.8,1480.1h0M172.5,1479.1h0M175.2,1478.1h0M177.8,1477.1h0M180.5,1476.1h0M152.5,1485.3h0M183,1475.2h0M199.3,1518.6h0M202,1513.1h0M204.7,1510h0M207.4,1509h0M210,1507.9h0M212.7,1506.9h0M215.4,1505.8h0M218.1,1504.9h0M220.8,1504h0M223.5,1503.1h0M226.1,1502.2h0M228.8,1501.3h0M231.5,1500.8h0M234.2,1502.6h0M236.9,1504.4h0M239.6,1505.3h0M242.2,1504.4h0M244.9,1503.5h0M247.6,1496.4h0M250.3,1489.2h0M253,1487.1h0M255.7,1484.9h0M258.3,1482.7h0M261,1480.6h0M263.7,1479.3h0M266.4,1478.1h0M269.1,1477h0M271.8,1475.8h0M274.4,1474.7h0M277.1,1473.5h0M279.8,1472.9h0M282.5,1474.7h0M285.2,1476.5h0M287.9,1478.3h0M290.5,1480.1h0M293.2,1481.9h0M295.9,1481.7h0M298.6,1479.7h0M301.3,1477.7h0M304,1475.7h0M198.2,1520.8h0M304.6,1475.2h0M330.8,1487.5h0M333.5,1486.4h0M336.2,1485.4h0M338.8,1484.3h0M341.5,1483.2h0M344.2,1483.3h0M346.9,1484.2h0M349.6,1485.1h0M352.2,1486h0M354.9,1486.9h0M357.6,1487.7h0M360.3,1486.5h0M363,1485.2h0M365.7,1483.9h0M368.4,1482.5h0M371,1481.2h0M373.7,1480.6h0M376.4,1481.9h0M379.1,1483.2h0M381.8,1484.6h0M330,1487.8h0M383.2,1485.3h0M405.9,1496.8h0M408.6,1495.5h0M411.3,1494.1h0M414,1492.8h0M416.7,1491.4h0M419.3,1489.3h0M422,1484.9h0M424.7,1480.4h0M427.4,1473.8h0M403.5,1498h0M428.8,1468.8h0M459.6,1482.9h0M462.3,1483.9h0M465,1484.8h0M467.6,1485.8h0M470.3,1486.7h0M473,1487.5h0M475.7,1488.3h0M478.4,1489.1h0M481.1,1489.9h0M459.2,1482.8h0M482.7,1490.4h0M497.2,1380.8h0M499.8,1376.4h0M502.5,1372h0M505.2,1369h0M507.9,1366.3h0M510.6,1363.6h0M513.2,1365h0M515.9,1369.8h0M518.6,1374.9h0M521.3,1381.7h0M495.3,1383.9h0M523.2,1386.5h0M529.4,1415.5h0M532,1412.6h0M534.7,1409.7h0M537.4,1406.7h0M540.1,1405h0M542.8,1410.4h0M545.5,1415.8h0M548.1,1418.2h0M550.8,1419.9h0M553.5,1421.5h0M556.2,1423.2h0M558.9,1423.6h0M561.6,1424.1h0M564.2,1424.5h0M566.9,1425h0M569.6,1425.4h0M527,1418.1h0M571.4,1425.7h0M583,1442.8h0M585.7,1449.9h0M582.8,1442.2h0M586.6,1452.3h0M591.1,1477.4h0M593.8,1486.3h0M596.4,1490.6h0M599.1,1494h0M601.8,1497.4h0M604.5,1500.6h0M607.2,1502.6h0M609.9,1504.6h0M612.5,1506.6h0M590.4,1475.2h0M614.5,1508.1h0M652.8,1535.2h0M655.5,1539.9h0M652.5,1534.7h0M657.6,1543.6h0M660.8,1524.5h0M663.5,1515.9h0M666.2,1509.3h0M668.9,1505.7h0M671.6,1502.1h0M674.2,1501.2h0M676.9,1502.6h0M679.6,1503.9h0M682.3,1505.2h0M685,1506.6h0M660,1527.1h0M685.4,1506.8h0M693,1622.2h0M695.7,1623.1h0M698.4,1624h0M701.1,1624.5h0M703.8,1623.3h0M706.5,1622.2h0M709.1,1621.1h0M693,1622.2h0M709.5,1620.9h0M717.2,1553.1h0M719.9,1543h0M722.5,1534.1h0M725.2,1530.5h0M727.9,1529.8h0M716,1557.5h0M728.5,1529.7h0M736,1506.3h0M738.7,1504.3h0M741.3,1502.3h0M744,1500.6h0M746.7,1501.5h0M749.4,1502.4h0M733.6,1508.1h0M751.3,1503h0M762.8,1603.6h0M765.5,1607.2h0M768.2,1610.8h0M770.9,1610.3h0M773.5,1607.7h0M761.5,1601.9h0M774.2,1607h0M787,1505.1h0M789.6,1495.7h0M792.3,1487h0M795,1482.1h0M797.7,1477.1h0M800.4,1472.2h0M803,1468.5h0M805.7,1464.7h0M808.4,1461h0M811.1,1457.3h0M786.8,1505.6h0M812.8,1454.9h0M851.4,1419.2h0M854,1426.8h0M856.7,1434h0M859.4,1440.3h0M862.1,1446.5h0M864.8,1450.6h0M867.5,1452.2h0M870.1,1453.8h0M872.8,1455.4h0M875.5,1457h0M849.6,1414.3h0M876.2,1457.4h0M886.2,1382.3h0M888.9,1382h0M891.6,1381.7h0M894.3,1380.4h0M897,1373.8h0M899.7,1368.6h0M902.3,1368.3h0M905,1367.9h0M907.7,1367.6h0M883.8,1382.6h0M909.1,1367.4h0M899.7,1365.7h0M902.3,1353.2h0M899,1368.7h0M902.8,1351h0M931.9,1396.6h0M934.5,1396.6h0M937.2,1396.6h0M939.9,1396.6h0M942.6,1396.9h0M945.3,1398.5h0M948,1400.1h0M950.6,1401.7h0M953.3,1403.4h0M956,1404.2h0M958.7,1404.2h0M961.4,1404.2h0M964.1,1404.2h0M966.7,1404.2h0M930.7,1396.6h0M967.4,1404.2h0M977.5,1423.5h0M980.2,1430h0M982.8,1436.5h0M985.5,1443.2h0M988.2,1451.3h0M976.3,1420.7h0M990.2,1457.4h0M1007,1601.1h0M1009.7,1601.9h0M1012.4,1602.7h0M1015,1603.5h0M1017.7,1604.3h0M1020.4,1606.2h0M1023.1,1608.4h0M1025.8,1610.6h0M1028.5,1612.7h0M1031.1,1614.2h0M1033.8,1611.1h0M1036.5,1608h0M1039.2,1604.9h0M1041.9,1594.8h0M1044.6,1583.4h0M1047.2,1571.8h0M1049.9,1561.8h0M1052.6,1553.1h0M1005.4,1600.6h0M1053.6,1549.9h0M1066,1434.6h0M1068.7,1427.3h0M1071.4,1406.4h0M1074.1,1398.4h0M1076.8,1390.1h0M1079.4,1380.3h0M1082.1,1375h0M1084.8,1369.7h0M1087.5,1368.9h0M1090.2,1369.3h0M1092.9,1369.6h0M1095.5,1369.9h0M1098.2,1375h0M1100.9,1384.8h0M1063.7,1441h0M1103,1396.6h0M1106.3,1427h0M1109,1427h0M1111.6,1428.1h0M1114.3,1429.9h0M1117,1431.7h0M1119.7,1437.6h0M1104.3,1427h0M1121.4,1442.2h0M1138.5,1615.3h0M1141.2,1618.6h0M1137.9,1614.6h0M1143,1620.9h0M1210.9,1301.2h0M1213.6,1305.6h0M1216.3,1310h0M1219,1317.3h0M1221.7,1325h0M1224.3,1335.4h0M1227,1342.8h0M1229.7,1350.3h0M1208.8,1297.7h0M1230.4,1352.2h0M1237.8,1300.5h0M1240.4,1307.7h0M1243.1,1314.8h0M1245.8,1319.8h0M1248.5,1322.9h0M1251.2,1326h0M1253.9,1326.9h0M1256.5,1326.9h0M1259.2,1326.9h0M1261.9,1326.9h0M1264.6,1326.9h0M1267.3,1327.2h0M1270,1331.2h0M1272.6,1335.2h0M1275.3,1339.7h0M1278,1346h0M1280.7,1352.2h0M1283.4,1355.7h0M1286,1355.1h0M1288.7,1354.4h0M1291.4,1353.8h0M1294.1,1354.3h0M1296.8,1355.6h0M1236.7,1297.7h0M1297.6,1356h0M1310.2,1503h0M1312.9,1503h0M1315.6,1503h0M1309,1503h0M1317.8,1503h0M1334.4,1628.4h0M1337,1623.7h0M1339.7,1616.9h0M1342.4,1607.7h0M1345.1,1605h0M1347.8,1602.3h0M1350.5,1602.3h0M1353.1,1602.7h0M1355.8,1603.2h0M1331.8,1637.4h0M1355.9,1603.2h0M1361.2,1573.4h0M1363.9,1568.1h0M1366.5,1563.1h0M1369.2,1559h0M1371.9,1554.3h0M1374.6,1548.6h0M1377.3,1542.9h0M1380,1536.9h0M1360.9,1574h0M1382.5,1523.3h0M1396.1,1461.3h0M1398.8,1458.1h0M1401.4,1455h0M1404.1,1452.8h0M1406.8,1450.6h0M1409.5,1448.4h0M1412.2,1446.3h0M1414.9,1445.2h0M1417.5,1447h0M1420.2,1448.7h0M1422.9,1450.5h0M1425.6,1452.3h0M1393.9,1463.8h0M1425.6,1452.3h0M1431,1506.5h0M1433.6,1512.8h0M1430,1504.3h0M1433.8,1513.2h0M1468.5,1585.3h0M1471.2,1583.1h0M1473.9,1580.9h0M1476.6,1578.7h0M1479.2,1576.5h0M1466.8,1586.7h0M1480.7,1575.3h0M1506.1,1456.1h0M1508.8,1454.8h0M1511.5,1453.4h0M1514.1,1452.1h0M1516.8,1450.7h0M1519.5,1446.9h0M1522.2,1437.1h0M1524.9,1433.5h0M1527.6,1430.8h0M1530.2,1428.2h0M1532.9,1423.2h0M1535.6,1416.5h0M1538.3,1410h0M1541,1403.5h0M1503.5,1457.4h0M1542.8,1399.1h0M1546.3,1380.1h0M1545.3,1380.1h0M1549,1380.1h0M1575.9,1589.8h0M1578.5,1596.1h0M1581.2,1602.3h0M1583.9,1609.9h0M1586.6,1618h0M1589.3,1623.9h0M1592,1629.3h0M1594.6,1634.7h0M1597.3,1637.4h0M1600,1640.1h0M1602.7,1642.2h0M1605.4,1640.9h0M1608.1,1639.6h0M1610.7,1638.3h0M1613.4,1635.2h0M1616.1,1628.7h0M1618.8,1622.2h0M1574.5,1586.7h0M1618.8,1622.2h0M1664.4,1346.5h0M1667.1,1344.7h0M1669.8,1348.8h0M1672.5,1352.8h0M1675.1,1357.2h0M1677.8,1363.3h0M1680.5,1370.6h0M1683.2,1380.3h0M1685.9,1382.4h0M1688.6,1383.4h0M1691.2,1384.5h0M1693.9,1385.6h0M1696.6,1386.2h0M1699.3,1384.9h0M1702,1383.5h0M1704.7,1382.2h0M1707.3,1380.8h0M1710,1372.7h0M1661.9,1348.4h0M1711.3,1364.9h0M1702,1386.2h0M1704.7,1382.4h0M1707.3,1378.5h0M1700,1389h0M1708.9,1376.3h0M1747.6,1603.9h0M1750.3,1602.3h0M1753,1600.7h0M1755.6,1599.1h0M1758.3,1597.5h0M1761,1596h0M1763.7,1594.5h0M1766.4,1593.1h0M1769.1,1591.6h0M1771.7,1590.2h0M1774.4,1590.1h0M1777.1,1592.8h0M1779.8,1595.5h0M1782.5,1597.1h0M1785.2,1597.8h0M1787.8,1598.5h0M1790.5,1599.2h0M1793.2,1599.8h0M1795.9,1600.5h0M1798.6,1603.3h0M1801.2,1606.4h0M1803.9,1609.4h0M1806.6,1604.1h0M1809.3,1598.7h0M1812,1593.3h0M1746.8,1604.4h0M1812.8,1591.7h0M1814.7,1578.5h0M1817.4,1575.8h0M1820,1573.2h0M1822.7,1570.3h0M1825.4,1567.2h0M1828.1,1564h0M1814.1,1579.1h0M1830.5,1555h0M1844.2,1402.3h0M1846.9,1400.1h0M1849.6,1397.9h0M1852.2,1397.9h0M1854.9,1397.9h0M1857.6,1397.9h0M1860.3,1397.9h0M1863,1397.9h0M1865.7,1397.9h0M1868.3,1397.9h0M1871,1407.4h0M1841.9,1404.2h0M1871.1,1408h0M1873.7,1425.1h0M1873.6,1424.5h0M1874.9,1432.1h0M1881.8,1393.6h0M1884.4,1397.7h0M1887.1,1401.7h0M1889.8,1402.2h0M1892.5,1396.9h0M1895.2,1391.6h0M1897.9,1386.8h0M1900.5,1382.2h0M1903.2,1379.2h0M1905.9,1376.2h0M1908.6,1373.2h0M1911.3,1370h0M1914,1366.2h0M1916.6,1362.5h0M1919.3,1360.5h0M1922,1358.6h0M1924.7,1356.7h0M1927.4,1356.6h0M1930.1,1357.5h0M1932.7,1358.4h0M1935.4,1362.1h0M1938.1,1366.3h0M1940.8,1370.6h0M1881.2,1392.8h0M1942,1372.5h0M1940.8,1404.9h0M1943.5,1406.4h0M1946.2,1407.8h0M1948.8,1409.3h0M1951.5,1410.7h0M1954.2,1411.8h0M1956.9,1411.6h0M1959.6,1411.4h0M1962.2,1411.2h0M1964.9,1411h0M1967.6,1410.8h0M1970.3,1410.7h0M1973,1409.6h0M1975.7,1404.8h0M1978.4,1399.9h0M1981,1397.3h0M1983.7,1395.2h0M1986.4,1393.1h0M1989.1,1390.9h0M1991.8,1388.9h0M1994.5,1387.5h0M1997.1,1386.2h0M1999.8,1384.8h0M2002.5,1383.5h0M2005.2,1382.2h0M2007.9,1383h0M2010.6,1386.5h0M2013.2,1390.1h0M2015.9,1395.8h0M2018.6,1402.9h0M1939.5,1404.2h0M2019,1404h0" fill="none" stroke="#6e4fa3" stroke-width="8.6" stroke-linecap="round"/>
<path d="M180.4,1468.8h0M185.5,1503h0M188,1553.7h0M193,1561.3h0M189.3,1577.8h0M195.6,1539.8h0M305.9,1495.4h0M308.4,1513.2h0M314.2,1555h0M316,1579h0M322.3,1576.5h0M319.3,1593h0M327.4,1514.4h0M330,1503h0M431.3,1450.3h0M433.9,1439.7h0M447.8,1447.3h0M451.6,1482.8h0M454.2,1504.3h0M458,1500.5h0M487.7,1476.4h0M492.8,1399.1h0M622.1,1527.1h0M625.9,1552.5h0M629.7,1563.9h0M642.3,1619.6h0M686.7,1571.5h0M689.2,1605.7h0M710.8,1603.2h0M753.9,1530.9h0M756.4,1562.6h0M778,1552.5h0M780.5,1530.9h0M817.9,1366.2h0M820.4,1337h0M824.2,1313h0M826.8,1297h0M844.5,1297h0M814.1,1399.1h0M848.3,1399.1h0M877.4,1428.3h0M880,1399.1h0M914.2,1300.3h0M916.7,1319.3h0M920.5,1338.3h0M923.1,1359.8h0M925.6,1377.6h0M928.1,1389h0M992.8,1468.8h0M995.3,1503h0M997.8,1557.5h0M1001.6,1576.5h0M1002.9,1586.7h0M1057.4,1534.7h0M1059.9,1509.4h0M828,1694.4h0M834.4,1688h0M911.7,1694.4h0M1124,1457.4h0M1126.5,1491.6h0M1129,1519.5h0M1132.3,1539.8h0M1135.3,1584.1h0M1145.5,1633.6h0M1182.2,1614.6h0M1183.5,1632.3h0M1153,1680.5h0M1163.2,1665.3h0M1188.6,1677.9h0M1202.5,1680.5h0M1205,1695.7h0M1206.3,1705.8h0M1234.2,1705.8h0M1198.7,1667.8h0M1297.6,1297h0M1311.5,1489.1h0M1305.2,1527.1h0M1320.4,1533.5h0M1322.9,1555h0M1303.9,1567.7h0M1301.4,1627.2h0M1328,1605.7h0M1357.1,1585.4h0M1386,1510h0M1390,1499h0M1426.8,1480.2h0M1429.3,1503h0M1431.9,1511.9h0M1492.1,1326.9h0M1499.7,1404.2h0M1551.7,1413h0M1552.9,1438.4h0M1489.6,1429.5h0M1502.2,1432.1h0M1485.8,1471.4h0M1484.5,1511.9h0M1430,1480.2h0M1457.9,1505.6h0M1459.1,1533.5h0M1461.7,1549.9h0M1559.3,1547.4h0M1571.9,1553.7h0M1559.3,1568.9h0M1555.5,1594.3h0M1622.6,1609.5h0M1625.2,1598.1h0M1627.7,1589.2h0M1630.2,1574h0M1637.8,1542.3h0M1637.8,1520.8h0M1642.9,1496.7h0M1645.4,1462.5h0M1646.7,1425.7h0M1650.5,1399.1h0M1653,1385.2h0M1655.6,1375h0M1658.1,1359.8h0M1713.9,1351h0M1716.4,1326.9h0M1720.2,1309.1h0M1722.7,1297.7h0M1745.5,1623.4h0M1739.2,1642.4h0M1736.7,1657.6h0M1734.2,1669h0M1730.3,1681.7h0M1727.8,1694.4h0M1725.3,1707.1h0M1835.6,1495.4h0M1840.7,1424.5h0M1878.7,1362.4h0" fill="none" stroke="#6e4fa3" stroke-width="8.8" stroke-linecap="round"/>
<text x="143" y="1320.7" font-size="31" fill="#3e7070" stroke="#3e7070" stroke-width="0.6" text-anchor="end" textLength="38.5" lengthAdjust="spacingAndGlyphs">30</text>
<text x="143" y="1379.8" font-size="31" fill="#3e7070" stroke="#3e7070" stroke-width="0.6" text-anchor="end" textLength="38.5" lengthAdjust="spacingAndGlyphs">25</text>
<text x="143" y="1447.5" font-size="31" fill="#3e7070" stroke="#3e7070" stroke-width="0.6" text-anchor="end" textLength="38.5" lengthAdjust="spacingAndGlyphs">20</text>
<text x="143" y="1516" font-size="31" fill="#3e7070" stroke="#3e7070" stroke-width="0.6" text-anchor="end" textLength="38.5" lengthAdjust="spacingAndGlyphs">15</text>
<text x="143" y="1585" font-size="31" fill="#3e7070" stroke="#3e7070" stroke-width="0.6" text-anchor="end" textLength="38.5" lengthAdjust="spacingAndGlyphs">10</text>
<text x="143" y="1654.3" font-size="31" fill="#3e7070" stroke="#3e7070" stroke-width="0.6" text-anchor="end" textLength="18.5" lengthAdjust="spacingAndGlyphs">5</text>
<text x="143" y="1709.6" font-size="31" fill="#3e7070" stroke="#3e7070" stroke-width="0.6" text-anchor="end" textLength="18.5" lengthAdjust="spacingAndGlyphs">0</text>
<text x="2032.5" y="1319.8" font-size="31" fill="#6e4fa3" stroke="#6e4fa3" stroke-width="0.6" textLength="58.5" lengthAdjust="spacingAndGlyphs">360</text>
<text x="2032.5" y="1413.4" font-size="31" fill="#6e4fa3" stroke="#6e4fa3" stroke-width="0.6" textLength="58.5" lengthAdjust="spacingAndGlyphs">270</text>
<text x="2032.5" y="1517" font-size="31" fill="#6e4fa3" stroke="#6e4fa3" stroke-width="0.6" textLength="58.5" lengthAdjust="spacingAndGlyphs">180</text>
<text x="2032.5" y="1620" font-size="31" fill="#6e4fa3" stroke="#6e4fa3" stroke-width="0.6" textLength="38.5" lengthAdjust="spacingAndGlyphs">90</text>
<text x="2032.5" y="1709.3" font-size="31" fill="#6e4fa3" stroke="#6e4fa3" stroke-width="0.6" textLength="18.5" lengthAdjust="spacingAndGlyphs">0</text>
<text transform="translate(67.2,1688) rotate(-90)" x="0" y="0" font-size="31.5" fill="#3e7070" stroke="#3e7070" stroke-width="0.6" textLength="372" lengthAdjust="spacingAndGlyphs">Скорость ветра (km/h)</text>
<text transform="translate(2133,1673.3) rotate(-90)" x="0" y="0" font-size="31.5" fill="#6e4fa3" stroke="#6e4fa3" stroke-width="0.6" textLength="321" lengthAdjust="spacingAndGlyphs">Направление ветра</text>
<circle cx="2108.6" cy="1333.6" r="4.2" fill="none" stroke="#6e4fa3" stroke-width="2"/>
<text x="270.7" y="1280.4" font-size="30.5" fill="#000" stroke="#000" stroke-width="0.5" text-anchor="middle">02</text>
<text x="399.5" y="1280.4" font-size="30.5" fill="#000" stroke="#000" stroke-width="0.5" text-anchor="middle">04</text>
<text x="528.3" y="1280.4" font-size="30.5" fill="#000" stroke="#000" stroke-width="0.5" text-anchor="middle">06</text>
<text x="657.1" y="1280.4" font-size="30.5" fill="#000" stroke="#000" stroke-width="0.5" text-anchor="middle">08</text>
<text x="785.9" y="1280.4" font-size="30.5" fill="#000" stroke="#000" stroke-width="0.5" text-anchor="middle">10</text>
<text x="914.7" y="1280.4" font-size="30.5" fill="#000" stroke="#000" stroke-width="0.5" text-anchor="middle">12</text>
<text x="1043.5" y="1280.4" font-size="30.5" fill="#000" stroke="#000" stroke-width="0.5" text-anchor="middle">14</text>
<text x="1172.3" y="1280.4" font-size="30.5" fill="#000" stroke="#000" stroke-width="0.5" text-anchor="middle">16</text>
<text x="1301.1" y="1280.4" font-size="30.5" fill="#000" stroke="#000" stroke-width="0.5" text-anchor="middle">18</text>
<text x="1429.9" y="1280.4" font-size="30.5" fill="#000" stroke="#000" stroke-width="0.5" text-anchor="middle">20</text>
<text x="1558.7" y="1280.4" font-size="30.5" fill="#000" stroke="#000" stroke-width="0.5" text-anchor="middle">22</text>
<text x="1687.5" y="1280.4" font-size="30.5" fill="#000" stroke="#000" stroke-width="0.5" text-anchor="middle">24</text>
<text x="1816.3" y="1280.4" font-size="30.5" fill="#000" stroke="#000" stroke-width="0.5" text-anchor="middle">26</text>
<text x="1945.1" y="1280.4" font-size="30.5" fill="#000" stroke="#000" stroke-width="0.5" text-anchor="middle">28</text>
<g fill="#6e4fa3" stroke="none">
<rect x="2183.6" y="1245.8" width="6" height="30"/>
<polygon points="2186.6,1297.6 2177.1,1273 2196.1,1273"/>
<rect x="2154.7" y="1396.3" width="40" height="6"/>
<polygon points="2218.8,1399.3 2194,1390 2194,1408.6"/>
<rect x="2183.6" y="1525" width="6" height="28.8"/>
<polygon points="2186.6,1502 2177.1,1527 2196.1,1527"/>
<rect x="2178" y="1602.6" width="40.8" height="6"/>
<polygon points="2154.5,1605.6 2179,1596.3 2179,1614.9"/>
<rect x="2183.6" y="1658.9" width="6" height="30"/>
<polygon points="2186.6,1710.7 2177.1,1686 2196.1,1686"/>
</g>
</svg></body></html>
